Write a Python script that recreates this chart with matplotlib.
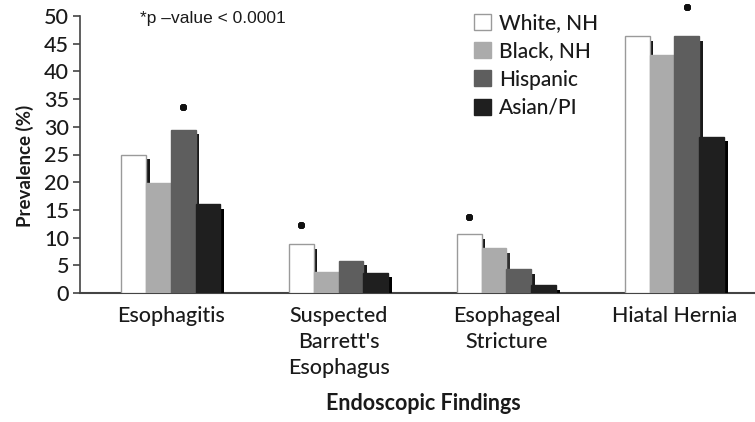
import matplotlib
matplotlib.use("Agg")
import matplotlib.pyplot as plt
import numpy as np
from matplotlib.patches import Patch

categories = ["Esophagitis", "Suspected\nBarrett's\nEsophagus", "Esophageal\nStricture", "Hiatal Hernia"]
series_names = ["White, NH", "Black, NH", "Hispanic", "Asian/PI"]
white_nh = [25.0, 8.8, 10.6, 46.3]
black_nh = [19.8, 3.8, 8.1, 43.0]
hispanic = [29.5, 5.8, 4.3, 46.3]
asian_pi = [16.0, 3.6, 1.4, 28.2]
star_series = [2, 0, 0, 2]          # which bar carries the significance star
star_level = [33.6, 12.3, 13.7, 51.7]
yticks = [0, 5, 10, 15, 20, 25, 30, 35, 40, 45, 50]
note_text = "*p \u2013value < 0.0001"

face_colors = ["#ffffff", "#ababab", "#5e5e5e", "#1f1f1f"]
edge_colors = ["#9a9a9a", "#ababab", "#5e5e5e", "#1f1f1f"]
side_colors = ["#151515", "#303030", "#1a1a1a", "#000000"]
txt = "#1a1a1a"

fig = plt.figure(figsize=(7.55, 4.22), dpi=100)
ax = fig.add_axes([80/755, 1-293/422, (755-80)/755, (293-16)/422])

data = [white_nh, black_nh, hispanic, asian_pi]
x = np.arange(len(categories))
w = 0.148
side_w = 0.022
for i, vals in enumerate(data):
    vals = np.array(vals)
    left = x - 2*w + i*w
    ax.bar(left + w, np.maximum(vals - 0.8, 0), width=side_w, align="edge",
           color=side_colors[i], linewidth=0, zorder=2 + 2*i)
    ax.bar(left, vals, width=w, align="edge", color=face_colors[i],
           edgecolor=edge_colors[i], linewidth=1.0, zorder=3 + 2*i)

for ci, (si, lvl) in enumerate(zip(star_series, star_level)):
    xs = x[ci] - 2*w + si*w + w/2
    ax.plot([xs], [lvl], marker=(8, 2, 0), ms=5, mew=2.0, color="#111111",
            clip_on=False, zorder=20)

ax.set_xlim(-0.54, 3.48)
ax.set_ylim(0, 50)
ax.set_yticks(yticks)
ax.set_yticklabels([str(t) for t in yticks], fontfamily="Lato", fontweight="medium",
                   fontsize=15.5, color=txt)
ax.set_xticks(x)
ax.set_xticklabels(categories, fontfamily="Lato", fontweight="medium", fontsize=15.5,
                   color=txt, linespacing=1.4)
ax.tick_params(axis="x", length=0, pad=9)
ax.tick_params(axis="y", length=5, width=1.2, color="#444444", pad=3)
for s in ["top", "right"]:
    ax.spines[s].set_visible(False)
ax.spines["left"].set_color("#444444")
ax.spines["bottom"].set_color("#444444")
ax.spines["left"].set_linewidth(1.2)
ax.spines["bottom"].set_linewidth(1.5)

fig.text(25/755, 1-166/422, "Prevalence (%)", rotation=90, ha="center", va="center",
         fontfamily="Lato", fontweight="bold", fontsize=13.5, color=txt)
fig.text(423/755, 1-403/422, "Endoscopic Findings", ha="center", va="center",
         fontfamily="Lato", fontweight="bold", fontsize=15.5, color=txt)
fig.text(140/755, 1-18/422, note_text, ha="left", va="center",
         fontfamily="Liberation Sans", fontsize=12.5, color=txt)

handles = [Patch(facecolor=face_colors[i], edgecolor=edge_colors[i], linewidth=1.0)
           for i in range(4)]
leg = fig.legend(handles, series_names, loc="upper left",
                 bbox_to_anchor=(474/755, 1-13/422), frameon=False,
                 prop={"family": "Lato", "weight": "medium", "size": 15}, handlelength=0.8,
                 handleheight=0.8, handletextpad=0.4, labelspacing=0.4,
                 borderaxespad=0, borderpad=0)
for t in leg.get_texts():
    t.set_color(txt)

fig.savefig("out.png", dpi=100)
